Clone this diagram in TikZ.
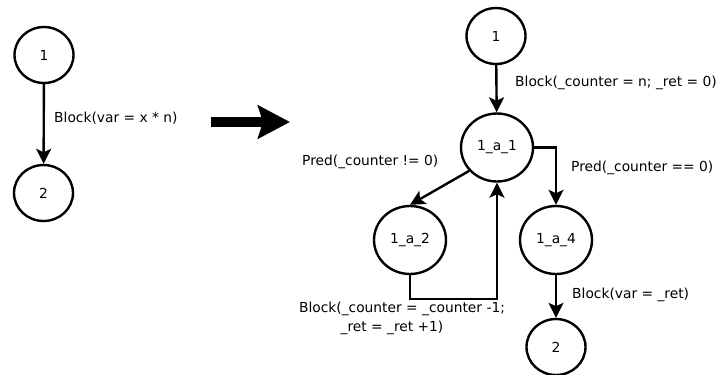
\documentclass[tikz,border=0pt]{standalone}
\usepackage{fontspec}
\setmainfont{DejaVu Sans}
\usetikzlibrary{shapes.geometric,arrows.meta}
\tikzset{
  st/.style={ellipse, draw, line width=2.4bp, inner sep=0pt, minimum width=59bp, minimum height=56bp},
  bst/.style={st, minimum width=72bp, minimum height=68bp},
  lbl/.style={inner sep=0pt, font=\fontsize{13.8bp}{19bp}\selectfont},
  flow/.style={line width=2.4bp, -{Stealth[length=15bp, width=15bp, inset=3.5bp]}}
}
\begin{document}
\begin{tikzpicture}[x=1bp, y=-1bp, every node/.append style={font=\fontsize{13.8bp}{19bp}\selectfont}]
\useasboundingbox (0,0) rectangle (719,374);
\node[st] (lid1) at (44,55){1};
\node[st] (lid2) at (43.5,193){2};
\draw[flow](lid1) -- (lid2);
\node[lbl, anchor=west] (lblk) at (54,118){Block(var = x * n)};
\coordinate (bigtail) at (211,122);
\coordinate (bighead) at (290,122);
\draw[line width=10bp, -{Stealth[length=32bp, width=33bp, inset=5bp]}](bigtail) -- (bighead);
\node[st] (rid1) at (496,36){1};
\node[bst] (rid1a1) at (497,147.5){1\_a\_1};
\node[bst] (rid1a2) at (410,240){1\_a\_2};
\node[bst] (rid1a4) at (556,240){1\_a\_4};
\node[st] (rid2) at (556,347){2};
\draw[flow](rid1) -- (rid1a1);
\draw[flow](rid1a1.220) -- (rid1a2.north);
\draw[flow](rid1a1.east) -| (rid1a4.north);
\draw[flow](rid1a2.south) -- ++(0,24) -| (rid1a1.south);
\draw[flow](rid1a4) -- (rid2);
\node[lbl, anchor=west] (rblk1) at (515,83){Block(\_counter = n; \_ret = 0)};
\node[lbl, anchor=west] (rpred1) at (302,162){Pred(\_counter != 0)};
\node[lbl, anchor=west] (rpred2) at (571,168){Pred(\_counter == 0)};
\node[lbl, align=center] (rblk2) at (402,318.5){Block(\_counter = \_counter -1;\\\_ret = \_ret +1)\hspace*{20bp}};
\node[lbl, anchor=west] (rblk3) at (572,295){Block(var = \_ret)};
\end{tikzpicture}
\end{document}
